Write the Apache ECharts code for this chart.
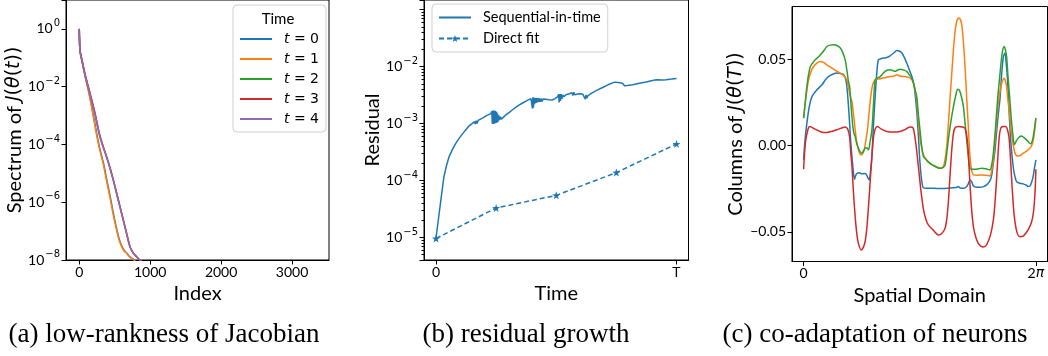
<!DOCTYPE html>
<html>
<head>
<meta charset="utf-8">
<script src="https://cdn.jsdelivr.net/npm/echarts@6/dist/echarts.min.js"></script>
<style>
  html, body { margin: 0; padding: 0; background: #fff; }
  #chart { width: 1048px; height: 356px; }
</style>
</head>
<body>
<div id="chart"></div>
<script>
// ---- (a) spectrum of J(theta(t)), [index, singular value]
const spectrumNames = ['t = 0', 't = 1', 't = 2', 't = 3', 't = 4']
const spectrumT0 = [[0, 1], [3, 0.46], [10, 0.17], [34, 0.086], [80, 0.025], [148, 4.7e-3], [200, 1.0e-3], [241, 2.8e-4], [291, 7.0e-5], [344, 2.1e-5], [391, 5.5e-6], [438, 1.5e-6], [486, 3.6e-7], [532, 1.07e-7], [566, 5.0e-8], [603, 2.9e-8], [636, 2.1e-8], [673, 1.7e-8], [706, 1.35e-8], [744, 1.15e-8], [776, 1.0e-8], [806, 8.5e-9]]
const spectrumT1 = [[0, 1], [3, 0.45], [10, 0.17], [34, 0.085], [80, 0.024], [145, 4.6e-3], [195, 1.0e-3], [235, 2.8e-4], [285, 7.0e-5], [338, 2.1e-5], [385, 5.5e-6], [432, 1.5e-6], [480, 3.6e-7], [527, 1.07e-7], [560, 5.0e-8], [597, 2.9e-8], [630, 2.1e-8], [667, 1.7e-8], [700, 1.35e-8], [738, 1.15e-8], [770, 1.0e-8], [800, 8.5e-9]]
const spectrumT2 = [[0, 1], [3, 0.47], [10, 0.18], [34, 0.09], [80, 0.027], [151, 5.5e-3], [221, 1.12e-3], [281, 2.3e-4], [330, 9.0e-5], [386, 3.6e-5], [433, 1.5e-5], [479, 5.8e-6], [526, 2.0e-6], [573, 6.9e-7], [620, 2.4e-7], [667, 8.3e-8], [714, 2.9e-8], [750, 1.9e-8], [784, 1.48e-8], [820, 1.2e-8], [855, 1.0e-8], [890, 8.5e-9]]
const spectrumT3 = [[0, 1], [3, 0.48], [10, 0.19], [34, 0.095], [80, 0.029], [155, 5.6e-3], [225, 1.15e-3], [284, 2.4e-4], [333, 9.2e-5], [389, 3.6e-5], [436, 1.5e-5], [482, 5.8e-6], [529, 2.0e-6], [576, 6.9e-7], [622, 2.4e-7], [668, 8.3e-8], [714, 2.9e-8], [750, 1.9e-8], [784, 1.48e-8], [820, 1.2e-8], [855, 1.0e-8], [890, 8.5e-9]]
const spectrumT4 = [[0, 1], [3, 0.47], [10, 0.18], [34, 0.09], [80, 0.027], [152, 5.5e-3], [222, 1.1e-3], [282, 2.3e-4], [331, 9.0e-5], [387, 3.6e-5], [434, 1.5e-5], [480, 5.8e-6], [527, 2.0e-6], [574, 6.9e-7], [621, 2.4e-7], [668, 8.3e-8], [716, 2.9e-8], [752, 1.9e-8], [786, 1.48e-8], [822, 1.2e-8], [857, 1.0e-8], [892, 8.5e-9]]
const indexTicks = [0, 1000, 2000, 3000]

// ---- (b) residual over time, [t / T, residual]
const sequentialResidual = [[0, 1.0e-5], [0.008, 1.8e-5], [0.015, 3.1e-5], [0.025, 6.5e-5], [0.033, 1.17e-4], [0.043, 1.8e-4], [0.054, 2.6e-4], [0.068, 3.5e-4], [0.082, 4.5e-4], [0.096, 5.5e-4], [0.11, 6.6e-4], [0.125, 7.9e-4], [0.1375, 9.1e-4], [0.15, 1.0e-3], [0.16, 1.08e-3], [0.163, 0.98e-3], [0.167, 1.12e-3], [0.171, 1.0e-3], [0.175, 1.14e-3], [0.18, 1.12e-3], [0.193, 1.25e-3], [0.21, 1.38e-3], [0.228, 1.5e-3], [0.232, 1.65e-3], [0.234, 1.0e-3], [0.236, 1.7e-3], [0.238, 0.99e-3], [0.24, 1.7e-3], [0.242, 1.0e-3], [0.244, 1.7e-3], [0.246, 1.02e-3], [0.248, 1.66e-3], [0.25, 1.03e-3], [0.252, 1.6e-3], [0.254, 1.05e-3], [0.256, 1.5e-3], [0.258, 1.08e-3], [0.261, 1.4e-3], [0.264, 1.15e-3], [0.268, 1.32e-3], [0.272, 1.2e-3], [0.276, 1.3e-3], [0.29, 1.42e-3], [0.305, 1.58e-3], [0.318, 1.75e-3], [0.34, 2.05e-3], [0.36, 2.3e-3], [0.38, 2.55e-3], [0.395, 2.75e-3], [0.399, 2.9e-3], [0.401, 1.85e-3], [0.403, 2.9e-3], [0.405, 1.9e-3], [0.407, 2.85e-3], [0.41, 2.2e-3], [0.413, 2.8e-3], [0.416, 2.3e-3], [0.419, 2.8e-3], [0.422, 2.35e-3], [0.425, 2.8e-3], [0.428, 2.4e-3], [0.431, 2.78e-3], [0.434, 2.42e-3], [0.437, 2.75e-3], [0.441, 2.45e-3], [0.445, 2.7e-3], [0.45, 2.5e-3], [0.456, 2.68e-3], [0.462, 2.52e-3], [0.47, 2.62e-3], [0.483, 2.6e-3], [0.495, 2.75e-3], [0.505, 2.95e-3], [0.51, 3.25e-3], [0.512, 2.35e-3], [0.514, 3.3e-3], [0.517, 2.5e-3], [0.52, 3.3e-3], [0.523, 2.7e-3], [0.527, 3.2e-3], [0.532, 2.95e-3], [0.54, 3.2e-3], [0.555, 3.35e-3], [0.565, 3.5e-3], [0.569, 3.1e-3], [0.573, 3.55e-3], [0.577, 3.2e-3], [0.582, 3.45e-3], [0.595, 3.35e-3], [0.61, 3.3e-3], [0.618, 3.25e-3], [0.621, 2.7e-3], [0.624, 3.2e-3], [0.627, 2.8e-3], [0.632, 3.1e-3], [0.651, 3.5e-3], [0.672, 3.9e-3], [0.693, 4.3e-3], [0.715, 4.8e-3], [0.735, 5.2e-3], [0.745, 5.35e-3], [0.765, 5.2e-3], [0.775, 5.1e-3], [0.785, 4.6e-3], [0.795, 4.65e-3], [0.818, 4.8e-3], [0.846, 5.1e-3], [0.874, 5.4e-3], [0.9, 5.7e-3], [0.91, 5.85e-3], [0.915, 5.65e-3], [0.922, 5.9e-3], [0.94, 5.85e-3], [0.957, 5.9e-3], [0.98, 6.05e-3], [1.0, 6.2e-3]]
const directFitResidual = [[0, 9.6e-6], [0.25, 3.3e-5], [0.5, 5.5e-5], [0.75, 1.38e-4], [1.0, 4.4e-4]]
const timeTicks = [0, 1]
const timeTickLabels = ['0', 'T']

// ---- (c) columns of J(theta(T)), [x / 2pi, value]
const columnBlue = [[0, -0.0083], [0.006, 0.003], [0.014, 0.013], [0.025, 0.023], [0.036, 0.0284], [0.057, 0.0323], [0.079, 0.0352], [0.093, 0.038], [0.107, 0.04], [0.125, 0.0413], [0.143, 0.042], [0.16, 0.0418], [0.172, 0.0412], [0.18, 0.039], [0.186, 0.0345], [0.192, 0.025], [0.198, 0.013], [0.203, 0.002], [0.208, -0.0064], [0.214, -0.015], [0.219, -0.0195], [0.224, -0.0175], [0.229, -0.0162], [0.24, -0.0158], [0.251, -0.0164], [0.26, -0.0162], [0.269, -0.0165], [0.276, -0.0185], [0.282, -0.0199], [0.288, -0.015], [0.294, -0.0064], [0.3, 0.01], [0.308, 0.0284], [0.315, 0.042], [0.322, 0.0497], [0.333, 0.0503], [0.344, 0.0507], [0.358, 0.051], [0.372, 0.052], [0.387, 0.0535], [0.401, 0.0551], [0.412, 0.0548], [0.423, 0.0536], [0.434, 0.051], [0.444, 0.0478], [0.455, 0.044], [0.466, 0.04], [0.474, 0.036], [0.48, 0.03], [0.487, 0.02], [0.494, 0.006], [0.501, -0.01], [0.509, -0.021], [0.516, -0.0245], [0.53, -0.0248], [0.56, -0.0248], [0.587, -0.0249], [0.62, -0.0248], [0.645, -0.0245], [0.66, -0.0242], [0.666, -0.0238], [0.673, -0.0245], [0.681, -0.0248], [0.688, -0.0247], [0.695, -0.0245], [0.702, -0.0238], [0.709, -0.0222], [0.716, -0.02], [0.724, -0.021], [0.731, -0.0235], [0.745, -0.0242], [0.76, -0.0242], [0.774, -0.0238], [0.788, -0.0228], [0.802, -0.0205], [0.81, -0.017], [0.817, -0.01], [0.824, -0.0025], [0.831, 0.008], [0.838, 0.018], [0.845, 0.0265], [0.852, 0.04], [0.86, 0.0515], [0.867, 0.0536], [0.872, 0.048], [0.878, 0.038], [0.884, 0.022], [0.89, 0.006], [0.895, -0.0025], [0.903, -0.013], [0.91, -0.018], [0.917, -0.0209], [0.93, -0.0218], [0.945, -0.0222], [0.96, -0.023], [0.967, -0.0238], [0.974, -0.0235], [0.981, -0.0215], [0.988, -0.018], [0.994, -0.013], [1.0, -0.0083]]
const columnOrange = [[0, 0.0159], [0.01, 0.028], [0.0215, 0.0381], [0.032, 0.043], [0.043, 0.0458], [0.057, 0.0478], [0.072, 0.0487], [0.086, 0.0482], [0.1, 0.0468], [0.115, 0.0455], [0.129, 0.0443], [0.147, 0.0428], [0.165, 0.0414], [0.176, 0.04], [0.186, 0.0381], [0.193, 0.034], [0.2, 0.029], [0.208, 0.0255], [0.215, 0.018], [0.222, 0.0091], [0.229, 0.002], [0.236, -0.0025], [0.242, -0.0048], [0.248, -0.0054], [0.255, -0.0045], [0.261, -0.0025], [0.268, 0.003], [0.275, 0.0091], [0.282, 0.019], [0.289, 0.0284], [0.297, 0.035], [0.308, 0.0381], [0.322, 0.0385], [0.337, 0.039], [0.355, 0.0395], [0.372, 0.04], [0.387, 0.0402], [0.401, 0.041], [0.418, 0.0402], [0.437, 0.04], [0.452, 0.0395], [0.466, 0.0381], [0.476, 0.035], [0.48, 0.0323], [0.487, 0.026], [0.494, 0.014], [0.501, 0.004], [0.508, -0.001], [0.516, -0.0054], [0.53, -0.0085], [0.544, -0.0103], [0.565, -0.012], [0.587, -0.0132], [0.595, -0.013], [0.602, -0.0122], [0.609, -0.008], [0.616, -0.0006], [0.623, 0.012], [0.63, 0.0265], [0.638, 0.042], [0.645, 0.0555], [0.652, 0.066], [0.659, 0.0719], [0.664, 0.0735], [0.669, 0.0739], [0.675, 0.073], [0.681, 0.07], [0.688, 0.06], [0.695, 0.0458], [0.702, 0.028], [0.709, 0.011], [0.715, -0.004], [0.721, -0.0122], [0.731, -0.017], [0.75, -0.0172], [0.767, -0.017], [0.785, -0.0172], [0.802, -0.0176], [0.81, -0.0145], [0.817, -0.0083], [0.826, 0.006], [0.835, 0.0207], [0.845, 0.031], [0.855, 0.0371], [0.864, 0.039], [0.869, 0.0375], [0.874, 0.0342], [0.88, 0.026], [0.888, 0.016], [0.895, 0.0072], [0.903, 0], [0.91, -0.0044], [0.917, -0.0058], [0.924, -0.006], [0.935, -0.0055], [0.946, -0.0044], [0.96, -0.0032], [0.974, -0.0015], [0.982, 0], [0.989, 0.0033], [0.995, 0.009], [1.0, 0.0159]]
const columnGreen = [[0, 0.0159], [0.007, 0.025], [0.014, 0.0342], [0.021, 0.041], [0.029, 0.0458], [0.04, 0.048], [0.05, 0.0497], [0.065, 0.0515], [0.079, 0.0536], [0.09, 0.0555], [0.1, 0.0574], [0.115, 0.0582], [0.129, 0.0584], [0.143, 0.058], [0.158, 0.0565], [0.168, 0.054], [0.179, 0.0497], [0.186, 0.044], [0.192, 0.038], [0.198, 0.0342], [0.205, 0.022], [0.212, 0.011], [0.217, 0.007], [0.222, 0.0052], [0.229, 0.001], [0.236, -0.0015], [0.243, -0.0035], [0.251, -0.0044], [0.258, -0.003], [0.265, -0.0015], [0.272, -0.0012], [0.279, -0.0025], [0.286, 0.002], [0.294, 0.0091], [0.3, 0.022], [0.308, 0.0381], [0.319, 0.0392], [0.33, 0.04], [0.34, 0.0415], [0.351, 0.043], [0.362, 0.0438], [0.372, 0.0439], [0.383, 0.0435], [0.394, 0.043], [0.405, 0.0438], [0.415, 0.0443], [0.43, 0.0438], [0.444, 0.043], [0.455, 0.041], [0.466, 0.039], [0.475, 0.035], [0.48, 0.032], [0.487, 0.0284], [0.494, 0.018], [0.501, 0.0091], [0.508, 0], [0.516, -0.0064], [0.53, -0.0085], [0.544, -0.0103], [0.565, -0.012], [0.587, -0.0132], [0.6, -0.0128], [0.609, -0.0112], [0.616, -0.005], [0.623, 0.0033], [0.633, 0.013], [0.645, 0.0226], [0.655, 0.029], [0.663, 0.0327], [0.668, 0.0325], [0.673, 0.0313], [0.68, 0.028], [0.688, 0.0226], [0.695, 0.013], [0.702, 0.0033], [0.709, -0.006], [0.716, -0.0132], [0.725, -0.0137], [0.738, -0.0137], [0.752, -0.0135], [0.767, -0.0132], [0.785, -0.0135], [0.802, -0.0141], [0.81, -0.011], [0.817, -0.0044], [0.826, 0.01], [0.835, 0.0265], [0.845, 0.041], [0.855, 0.0536], [0.864, 0.0574], [0.869, 0.0555], [0.874, 0.0516], [0.88, 0.04], [0.888, 0.0265], [0.895, 0.014], [0.902, 0.005], [0.907, 0.0004], [0.915, 0.0025], [0.924, 0.0043], [0.931, 0.0052], [0.938, 0.0056], [0.95, 0.0045], [0.96, 0.0033], [0.97, 0.0018], [0.978, 0.001], [0.985, 0.003], [0.992, 0.008], [1.0, 0.0159]]
const columnRed = [[0, -0.0137], [0.008, 0.002], [0.018, 0.009], [0.026, 0.011], [0.05, 0.0095], [0.086, 0.0075], [0.115, 0.008], [0.143, 0.0092], [0.17, 0.0105], [0.179, 0.0108], [0.19, 0.0095], [0.198, 0.005], [0.203, -0.004], [0.208, -0.012], [0.215, -0.028], [0.222, -0.0412], [0.229, -0.051], [0.236, -0.0567], [0.248, -0.0605], [0.257, -0.059], [0.265, -0.0555], [0.272, -0.048], [0.279, -0.036], [0.287, -0.02], [0.294, -0.006], [0.301, 0.005], [0.308, 0.0095], [0.318, 0.011], [0.335, 0.0095], [0.358, 0.0082], [0.385, 0.0078], [0.415, 0.0082], [0.44, 0.0095], [0.458, 0.0108], [0.47, 0.0105], [0.478, 0.006], [0.486, -0.002], [0.494, -0.012], [0.505, -0.026], [0.516, -0.037], [0.527, -0.043], [0.537, -0.046], [0.558, -0.049], [0.58, -0.0518], [0.595, -0.051], [0.609, -0.048], [0.616, -0.043], [0.623, -0.033], [0.63, -0.018], [0.6375, -0.003], [0.645, 0.007], [0.652, 0.0103], [0.666, 0.011], [0.685, 0.0108], [0.695, 0.01], [0.702, 0.006], [0.708, -0.002], [0.716, -0.0219], [0.724, -0.038], [0.731, -0.047], [0.741, -0.053], [0.752, -0.0567], [0.763, -0.0583], [0.774, -0.0588], [0.785, -0.058], [0.795, -0.0555], [0.806, -0.051], [0.817, -0.043], [0.824, -0.033], [0.831, -0.019], [0.837, -0.005], [0.843, 0.006], [0.85, 0.0105], [0.86, 0.011], [0.87, 0.011], [0.877, 0.0095], [0.884, 0.005], [0.89, -0.006], [0.895, -0.018], [0.901, -0.031], [0.907, -0.041], [0.918, -0.05], [0.931, -0.0528], [0.945, -0.0525], [0.958, -0.0505], [0.97, -0.048], [0.981, -0.0445], [0.988, -0.04], [0.993, -0.034], [0.997, -0.025], [1.0, -0.0137]]
const columnTicks = [-0.05, 0, 0.05]
const domainTicks = [0, 1]

const captions = ['(a) low-rankness of Jacobian', '(b) residual growth', '(c) co-adaptation of neurons']

const tab10 = ['#1f77b4', '#ff7f0e', '#2ca02c', '#d62728', '#9467bd']
const labelFont = 'Lato'
const mathFont = 'DejaVu Sans'
const captionFont = '27px "Liberation Serif"'

// residual axis range (log) and the matplotlib-like minor ticks for it
const residualMin = 4.03e-6
const residualMax = 0.148
const minorLogTicks = []
for (let n = -6; n <= -1; n++) {
  for (let k = 2; k <= 9; k++) minorLogTicks.push(n + Math.log10(k))
}

const tickLabel = { color: '#000', fontFamily: labelFont, fontSize: 14 }
const supRich = {
  b: { fontFamily: labelFont, fontSize: 14, color: '#000' },
  s: { fontFamily: mathFont, fontSize: 10, color: '#000', padding: [0, 0, 11, 1] }
}
const mathRich = { m: { fontFamily: mathFont, fontStyle: 'italic', fontSize: 19, color: '#000' }, r: { fontFamily: mathFont, fontSize: 19, color: '#000' } }
const starPath = 'path://M0,-10L2.35,-3.24L9.51,-3.09L3.8,1.24L5.88,8.09L0,4L-5.88,8.09L-3.8,1.24L-9.51,-3.09L-2.35,-3.24Z'

function powerLabel (v, skip) {
  const l = Math.log10(v)
  const e = Math.round(l)
  if (Math.abs(l - e) > 1e-6 || skip(e)) return ''
  return '{b|10}{s|' + (e < 0 ? '\u2212' : '') + Math.abs(e) + '}'
}

function frameAxis (extra) {
  return Object.assign({
    axisLine: { show: true, onZero: false, lineStyle: { color: '#000', width: 1 } },
    axisTick: { show: true, length: 4.5, lineStyle: { color: '#000' } },
    splitLine: { show: false },
    nameTextStyle: { color: '#000', fontFamily: labelFont, fontSize: 20, rich: mathRich }
  }, extra)
}

function caption (text, x) {
  return { type: 'text', x: x, y: 335, z: 100, style: { text: text, align: 'center', verticalAlign: 'middle', fill: '#000', font: captionFont } }
}

const chart = echarts.init(document.getElementById('chart'))

const option = {
  animation: false,
  backgroundColor: '#fff',
  grid: [
    { left: 66, top: -1, width: 263, height: 261, show: true, borderColor: '#000', borderWidth: 1 },
    { left: 424, top: -2, width: 264.5, height: 262, show: true, borderColor: '#000', borderWidth: 1 },
    { left: 792, top: 6.5, width: 255.5, height: 255, show: true, borderColor: '#000', borderWidth: 1 },
    // overlay of panel (b) that only carries the minor log ticks
    { left: 424, top: -2, width: 264.5, height: 262, show: false }
  ],
  xAxis: [
    frameAxis({
      gridIndex: 0, type: 'value', min: -187, max: 3521,
      name: 'Index', nameLocation: 'middle', nameGap: 19,
      axisTick: { show: true, length: 4.5, lineStyle: { color: '#000' }, customValues: indexTicks },
      axisLabel: Object.assign({ margin: 5, customValues: indexTicks, formatter: v => String(v) }, tickLabel)
    }),
    frameAxis({
      gridIndex: 1, type: 'value', min: -0.05, max: 1.05,
      name: 'Time', nameLocation: 'middle', nameGap: 19,
      axisTick: { show: true, length: 4.5, lineStyle: { color: '#000' }, customValues: timeTicks },
      axisLabel: Object.assign({ margin: 5, customValues: timeTicks, formatter: v => timeTickLabels[timeTicks.indexOf(v)] }, tickLabel)
    }),
    frameAxis({
      gridIndex: 2, type: 'value', min: -0.05, max: 1.05,
      name: 'Spatial Domain', nameLocation: 'middle', nameGap: 18,
      axisTick: { show: true, length: 4.5, lineStyle: { color: '#000' }, customValues: domainTicks },
      axisLabel: Object.assign({
        margin: 5, customValues: domainTicks,
        formatter: v => v === 0 ? '0' : '2{p|\u03c0}',
        rich: { p: { fontFamily: mathFont, fontStyle: 'italic', fontSize: 14, color: '#000' } }
      }, tickLabel)
    }),
    {
      gridIndex: 3, type: 'value', min: 0, max: 1,
      axisLine: { show: false }, axisTick: { show: false }, axisLabel: { show: false }, splitLine: { show: false }
    }
  ],
  yAxis: [
    frameAxis({
      gridIndex: 0, type: 'log', logBase: 10, min: 1e-8, max: 10, interval: 2,
      name: 'Spectrum of {m|J}{r|(}{m|\u03b8}{r|(}{m|t}{r|))}', nameLocation: 'middle', nameGap: 35,
      axisLabel: { margin: 6, formatter: v => powerLabel(v, e => e % 2 !== 0 || e > 0), rich: supRich }
    }),
    frameAxis({
      gridIndex: 1, type: 'log', logBase: 10, min: residualMin, max: residualMax,
      name: 'Residual', nameLocation: 'middle', nameGap: 37,
      axisLabel: { margin: 6, formatter: v => powerLabel(v, e => e > -2), rich: supRich }
    }),
    frameAxis({
      gridIndex: 2, type: 'value', min: -0.0672, max: 0.0806,
      name: 'Columns of {m|J}{r|(}{m|\u03b8}{r|(}{m|T}{r|))}', nameLocation: 'middle', nameGap: 46,
      axisTick: { show: true, length: 4.5, lineStyle: { color: '#000' }, customValues: columnTicks },
      axisLabel: Object.assign({
        margin: 6, customValues: columnTicks,
        formatter: v => (v < 0 ? '\u2212' : '') + Math.abs(v).toFixed(2)
      }, tickLabel)
    }),
    {
      gridIndex: 3, type: 'value', position: 'left', min: Math.log10(residualMin), max: Math.log10(residualMax),
      axisLine: { show: false, onZero: false }, axisLabel: { show: false }, splitLine: { show: false },
      axisTick: { show: true, length: 2.5, lineStyle: { color: '#000', width: 1 }, customValues: minorLogTicks }
    }
  ],
  legend: [
    {
      data: spectrumNames, orient: 'vertical', left: 233, top: 5,
      padding: [27, 7, 6, 6], itemGap: 6, itemWidth: 32, itemHeight: 14,
      itemStyle: { opacity: 0 },
      backgroundColor: 'rgba(255,255,255,0.8)', borderColor: '#d0d0d0', borderWidth: 1, borderRadius: 4,
      formatter: n => '{i|t}' + n.slice(1),
      textStyle: {
        color: '#000', fontFamily: mathFont, fontSize: 14, padding: [0, 0, 0, 7],
        rich: { i: { fontFamily: mathFont, fontStyle: 'italic', fontSize: 14, color: '#000' } }
      }
    },
    {
      data: [{ name: 'Sequential-in-time', itemStyle: { opacity: 0 } }, { name: 'Direct fit' }],
      orient: 'vertical', left: 432, top: 4,
      padding: [6, 7, 6, 6], itemGap: 6, itemWidth: 32, itemHeight: 9,
      backgroundColor: 'rgba(255,255,255,0.8)', borderColor: '#d0d0d0', borderWidth: 1, borderRadius: 4,
      textStyle: { color: '#000', fontFamily: labelFont, fontSize: 14.5, padding: [0, 0, 0, 7] }
    }
  ],
  graphic: [
    { type: 'text', x: 278, y: 19, z: 100, style: { text: 'Time', align: 'center', verticalAlign: 'middle', fill: '#000', font: '15px Lato' } },
    caption(captions[0], 164),
    caption(captions[1], 526),
    caption(captions[2], 875)
  ],
  series: [
    ...[spectrumT0, spectrumT1, spectrumT2, spectrumT3, spectrumT4].map((d, i) => ({
      name: spectrumNames[i], type: 'line', xAxisIndex: 0, yAxisIndex: 0, data: d,
      symbol: 'none', smooth: 0.3, color: tab10[i], lineStyle: { width: 1.5 }
    })),
    {
      name: 'Sequential-in-time', type: 'line', xAxisIndex: 1, yAxisIndex: 1, data: sequentialResidual,
      symbol: 'none', color: tab10[0], lineStyle: { width: 1.5 }
    },
    {
      name: 'Direct fit', type: 'line', xAxisIndex: 1, yAxisIndex: 1, data: directFitResidual,
      symbol: starPath, symbolSize: 8, color: tab10[0], lineStyle: { width: 1.5, type: [5, 3] }
    },
    ...[columnBlue, columnOrange, columnGreen, columnRed].map((d, i) => ({
      type: 'line', xAxisIndex: 2, yAxisIndex: 2, data: d,
      symbol: 'none', smooth: 0.3, color: tab10[i], lineStyle: { width: 1.5 }
    }))
  ]
}

chart.setOption(option)
</script>
</body>
</html>
